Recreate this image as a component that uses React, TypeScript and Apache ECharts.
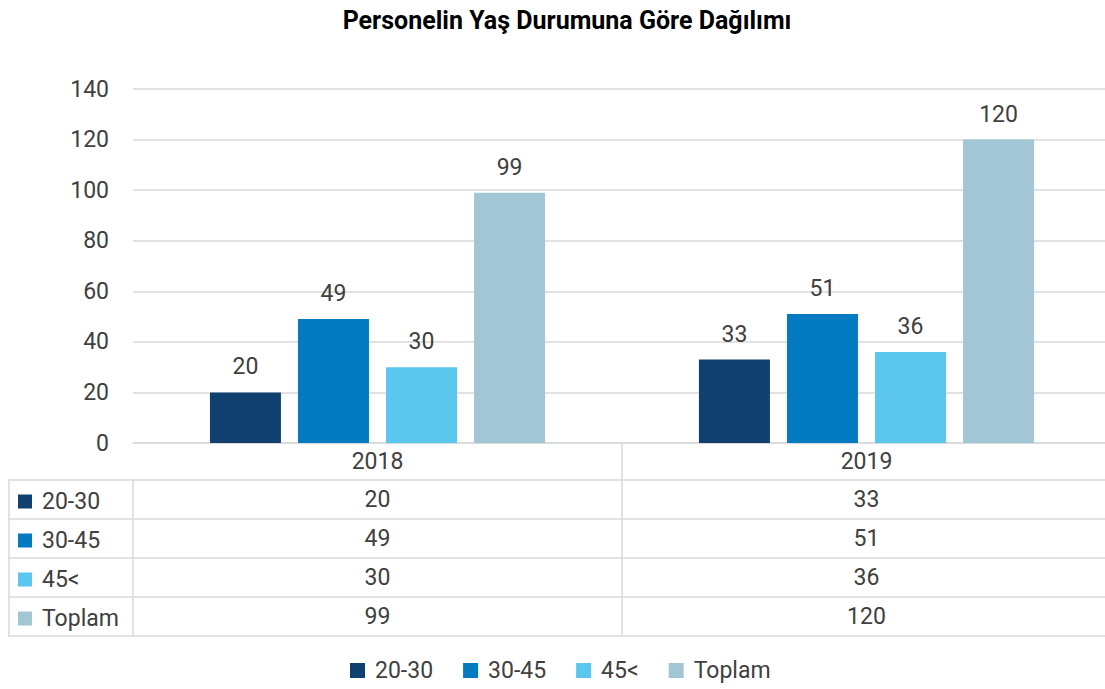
import React, { useEffect, useRef } from "react";
import * as echarts from "echarts";

const categories = ["2018", "2019"];
const seriesNames = ["20-30", "30-45", "45<", "Toplam"];
const age2030 = [20, 33];
const age3045 = [49, 51];
const age45plus = [30, 36];
const total = [99, 120];
const seriesValues = [age2030, age3045, age45plus, total];
const colors = ["#10406f", "#047bc1", "#5bc6ee", "#a2c6d4"];
const yTicks = { min: 0, max: 140, interval: 20 };

const FONT = "Roboto";
const TXT = "#404040";
const LINE = "#d9d9d9";
const FS = 23;

export default function App() {
  const ref = useRef<HTMLDivElement>(null);
  useEffect(() => {
    if (!ref.current) return;
    const chart = echarts.init(ref.current, undefined, { renderer: "svg" });
    chart.setOption({
      animation: false,
      backgroundColor: "#ffffff",
      textStyle: { fontFamily: FONT },
      title: {
        text: "Personelin Yaş Durumuna Göre Dağılımı",
        left: 562,
        textAlign: "center",
        top: 3,
        textStyle: { fontFamily: FONT, fontSize: 25, fontWeight: "bold", color: "#000000" },
      },
      legend: {
        bottom: 2,
        left: 345,
        icon: "rect",
        itemWidth: 15,
        itemHeight: 15,
        itemGap: 30,
        textStyle: { fontFamily: FONT, fontSize: FS, color: TXT, padding: [0, 0, 0, 5] },
        data: seriesNames,
      },
      grid: { left: 133, right: 0, top: 89, bottom: 246 },
      xAxis: {
        type: "category",
        data: categories,
        axisLine: { lineStyle: { color: LINE, width: 1.5 } },
        axisTick: { show: false },
        axisLabel: { fontFamily: FONT, fontSize: FS, color: TXT, margin: 7 },
      },
      yAxis: {
        type: "value",
        min: yTicks.min,
        max: yTicks.max,
        interval: yTicks.interval,
        axisLine: { show: false },
        axisTick: { show: false },
        axisLabel: { fontFamily: FONT, fontSize: FS, color: TXT, margin: 24 },
        splitLine: { lineStyle: { color: LINE, width: 1.5 } },
      },
      series: seriesNames.map((name, i) => ({
        type: "bar",
        name,
        data: seriesValues[i],
        barWidth: 71,
        barGap: "24%",
        itemStyle: { color: colors[i] },
        label: {
          show: true,
          position: "top",
          distance: 14,
          fontFamily: FONT,
          fontSize: FS,
          color: TXT,
        },
      })),
    });

    // Data table under the axis, built from the same arrays
    const c0 = chart.convertToPixel({ xAxisIndex: 0 }, categories[0]) as number;
    const c1 = chart.convertToPixel({ xAxisIndex: 0 }, categories[1]) as number;
    const mid = (c0 + c1) / 2;
    const gridLeft = 133;
    const rowTops = [480, 519, 558, 597, 636];
    const graphics: any[] = [];
    rowTops.forEach((y) =>
      graphics.push({
        type: "line",
        shape: { x1: 8, y1: y, x2: 1111, y2: y },
        style: { stroke: LINE, lineWidth: 1.5 },
      })
    );
    graphics.push({ type: "line", shape: { x1: 9, y1: 480, x2: 9, y2: 636 }, style: { stroke: LINE, lineWidth: 1.5 } });
    graphics.push({ type: "line", shape: { x1: gridLeft, y1: 480, x2: gridLeft, y2: 636 }, style: { stroke: LINE, lineWidth: 1.5 } });
    graphics.push({ type: "line", shape: { x1: mid, y1: 443, x2: mid, y2: 636 }, style: { stroke: LINE, lineWidth: 1.5 } });
    seriesNames.forEach((name, i) => {
      const cy = (rowTops[i] + rowTops[i + 1]) / 2;
      graphics.push({
        type: "rect",
        shape: { x: 18, y: cy - 5, width: 14, height: 14 },
        style: { fill: colors[i] },
      });
      graphics.push({
        type: "text",
        x: 42,
        y: cy + 2,
        style: { text: name, fontFamily: FONT, fontSize: FS, fill: TXT, verticalAlign: "middle", align: "left" },
      });
      [c0, c1].forEach((cx, j) => {
        graphics.push({
          type: "text",
          x: cx,
          y: cy,
          style: {
            text: String(seriesValues[i][j]),
            fontFamily: FONT,
            fontSize: FS,
            fill: TXT,
            align: "center",
            verticalAlign: "middle",
          },
        });
      });
    });
    chart.setOption({ graphic: graphics });

    return () => chart.dispose();
  }, []);
  return (
    <div style={{ position: "fixed", left: 0, top: 0, width: 1105, height: 689, overflow: "hidden", background: "#fff" }}>
      <div ref={ref} style={{ width: 1111, height: 689 }} />
    </div>
  );
}
